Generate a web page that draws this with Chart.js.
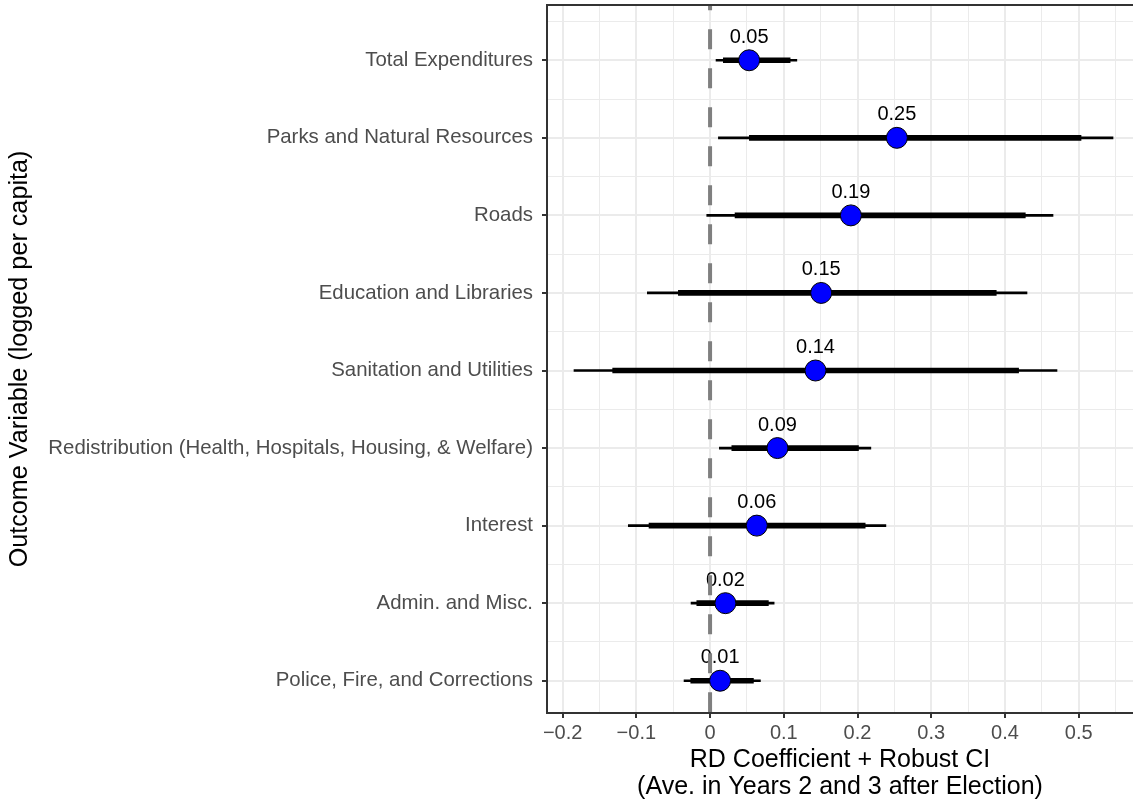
<!DOCTYPE html>
<html>
<head>
<meta charset="utf-8">
<title>RD estimates by spending category</title>
<script src="https://cdn.jsdelivr.net/npm/chart.js@4.4.1/dist/chart.umd.min.js"></script>
<style>
  html, body { margin: 0; padding: 0; background: #ffffff; overflow: hidden; }
  canvas { display: block; }
</style>
</head>
<body>
<canvas id="chart" width="1133" height="805"></canvas>
<script>
// Outcome categories, listed top to bottom
const outcomes = [
  'Total Expenditures',
  'Parks and Natural Resources',
  'Roads',
  'Education and Libraries',
  'Sanitation and Utilities',
  'Redistribution (Health, Hospitals, Housing, & Welfare)',
  'Interest',
  'Admin. and Misc.',
  'Police, Fire, and Corrections'
];

// Point estimates (RD coefficient)
const estimates = [0.053, 0.2534, 0.191, 0.1507, 0.143, 0.0914, 0.0634, 0.0208, 0.0136];

// Inner interval (thick segment)
const innerLow  = [0.018, 0.0533, 0.0339, -0.043, -0.1321, 0.0295, -0.0828, -0.018, -0.0262];
const innerHigh = [0.1086, 0.5032, 0.4276, 0.3882, 0.4185, 0.2013, 0.2104, 0.0791, 0.0588];

// Outer robust interval (thin segment)
const outerLow  = [0.0081, 0.0113, -0.0045, -0.0851, -0.1846, 0.0126, -0.1109, -0.0258, -0.0353];
const outerHigh = [0.1177, 0.5466, 0.4652, 0.4299, 0.4706, 0.2181, 0.2385, 0.0869, 0.0683];

// Axis tick values and labels
const xTickValues = [-0.2, -0.1, 0, 0.1, 0.2, 0.3, 0.4, 0.5];
const xTickLabels = ['\u22120.2', '\u22120.1', '0', '0.1', '0.2', '0.3', '0.4', '0.5'];

const FONT = "'Liberation Sans', Arial, Helvetica, sans-serif";
const X_MIN = -0.2212, X_MAX = 0.5737;
const Y_MIN = 0.584, Y_MAX = 9.7127;

// Row position on the vertical axis: first category sits at the top
const rowPos = i => outcomes.length - i;

// Major + minor ticks for x
const xTicks = [];
xTickValues.forEach((v, i) => {
  xTicks.push({ value: v, label: xTickLabels[i], major: true });
  const next = i < xTickValues.length - 1 ? xTickValues[i + 1] : v + (v - xTickValues[i - 1]);
  const mid = +((v + next) / 2).toFixed(4);
  if (mid < X_MAX) xTicks.push({ value: mid, label: '', major: false });
});

// Major (category) + minor (between categories) ticks for y
const yTicks = [];
outcomes.forEach((name, i) => {
  const p = rowPos(i);
  yTicks.push({ value: p, label: name, major: true });
  if (p + 0.5 < Y_MAX) yTicks.push({ value: p + 0.5, label: '', major: false });
});
yTicks.sort((a, b) => a.value - b.value);

const findTick = (list, v) => list.find(t => Math.abs(t.value - v) < 1e-6);
const isMajor = (list, c) => {
  if (!c.tick) return false;
  const t = findTick(list, c.tick.value);
  return !!(t && t.major);
};

// Labels, zero reference line and panel frame
const overlay = {
  id: 'overlay',
  afterDatasetsDraw(chart) {
    const { ctx, chartArea: a, scales } = chart;
    const pts = chart.getDatasetMeta(2).data;

    ctx.save();
    ctx.fillStyle = '#000000';
    ctx.font = `20px ${FONT}`;
    ctx.textAlign = 'center';
    ctx.textBaseline = 'middle';
    pts.forEach((pt, i) => {
      ctx.fillText(estimates[i].toFixed(2), pt.x, pt.y - 23);
    });
    ctx.restore();

    const x0 = scales.x.getPixelForValue(0);
    ctx.save();
    ctx.beginPath();
    ctx.rect(a.left, a.top, a.right - a.left, a.bottom - a.top);
    ctx.clip();
    ctx.strokeStyle = '#7F7F7F';
    ctx.lineWidth = 4;
    ctx.setLineDash([20, 19]);
    ctx.lineDashOffset = 14.7;
    ctx.beginPath();
    ctx.moveTo(x0, a.top);
    ctx.lineTo(x0, a.bottom);
    ctx.stroke();
    ctx.restore();

    // panel frame: the right side runs past the canvas edge
    const L = Math.round(a.left), T = Math.round(a.top), B = Math.round(a.bottom);
    ctx.save();
    ctx.strokeStyle = '#333333';
    ctx.lineWidth = 2;
    ctx.beginPath();
    ctx.moveTo(chart.width + 2, T);
    ctx.lineTo(L, T);
    ctx.lineTo(L, B);
    ctx.lineTo(chart.width + 2, B);
    ctx.stroke();
    ctx.restore();
  }
};

new Chart(document.getElementById('chart'), {
  type: 'bar',
  data: {
    datasets: [
      {
        type: 'bar',
        indexAxis: 'y',
        data: outcomes.map((o, i) => ({ y: rowPos(i), x: [outerLow[i], outerHigh[i]] })),
        backgroundColor: '#000000',
        borderWidth: 0,
        barThickness: 2,
        grouped: false,
        order: 3
      },
      {
        type: 'bar',
        indexAxis: 'y',
        data: outcomes.map((o, i) => ({ y: rowPos(i), x: [innerLow[i], innerHigh[i]] })),
        backgroundColor: '#000000',
        borderWidth: 0,
        barThickness: 5,
        grouped: false,
        order: 2
      },
      {
        type: 'scatter',
        data: outcomes.map((o, i) => ({ x: estimates[i], y: rowPos(i) })),
        pointRadius: 10.5,
        pointHoverRadius: 10.5,
        pointBackgroundColor: '#0000FF',
        pointBorderColor: '#000000',
        pointBorderWidth: 1,
        order: 1
      }
    ]
  },
  options: {
    indexAxis: 'y',
    responsive: false,
    animation: false,
    events: [],
    layout: { autoPadding: false, padding: { top: 5, right: 0, left: 0, bottom: 0 } },
    plugins: { legend: { display: false }, tooltip: { enabled: false } },
    scales: {
      x: {
        type: 'linear',
        position: 'bottom',
        min: X_MIN,
        max: X_MAX,
        offset: false,
        afterBuildTicks: s => { s.ticks = xTicks.map(t => ({ value: t.value })); },
        afterFit: s => {
          s.height = 92;
          s.paddingLeft = 0; s.paddingRight = 0; s.paddingTop = 0; s.paddingBottom = 0;
        },
        ticks: {
          autoSkip: false,
          maxRotation: 0,
          minRotation: 0,
          color: '#4D4D4D',
          font: { family: FONT, size: 20 },
          padding: 3,
          callback: v => { const t = findTick(xTicks, v); return t ? t.label : ''; }
        },
        grid: {
          offset: false,
          color: '#EBEBEB',
          lineWidth: c => isMajor(xTicks, c) ? 2 : 1,
          tickColor: c => isMajor(xTicks, c) ? '#333333' : 'rgba(0,0,0,0)',
          tickLength: 5,
          tickWidth: 2
        },
        border: { display: false },
        title: {
          display: true,
          text: ['RD Coefficient + Robust CI', '(Ave. in Years 2 and 3 after Election)'],
          color: '#000000',
          font: { family: FONT, size: 25, lineHeight: 1.07 },
          padding: { top: 0, bottom: 5 }
        }
      },
      y: {
        type: 'linear',
        position: 'left',
        min: Y_MIN,
        max: Y_MAX,
        offset: false,
        afterBuildTicks: s => { s.ticks = yTicks.map(t => ({ value: t.value })); },
        afterFit: s => {
          s.width = 547;
          s.paddingLeft = 0; s.paddingRight = 0; s.paddingTop = 0; s.paddingBottom = 0;
        },
        ticks: {
          autoSkip: false,
          color: '#4D4D4D',
          font: { family: FONT, size: 20.4 },
          padding: 9,
          callback: v => { const t = findTick(yTicks, v); return t ? t.label : ''; }
        },
        grid: {
          offset: false,
          color: '#EBEBEB',
          lineWidth: c => isMajor(yTicks, c) ? 2 : 1,
          tickColor: c => isMajor(yTicks, c) ? '#333333' : 'rgba(0,0,0,0)',
          tickLength: 5,
          tickWidth: 2
        },
        border: { display: false },
        title: {
          display: true,
          text: 'Outcome Variable (logged per capita)',
          color: '#000000',
          font: { family: FONT, size: 25.2, lineHeight: 1.07 },
          padding: { top: 6.5, bottom: 0 }
        }
      }
    }
  },
  plugins: [overlay]
});
</script>
</body>
</html>
